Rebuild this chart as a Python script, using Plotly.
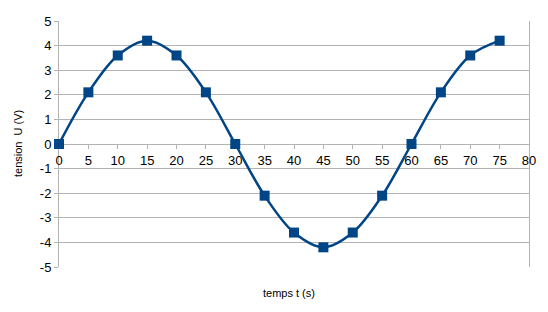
import plotly.graph_objects as go

t = [0, 5, 10, 15, 20, 25, 30, 35, 40, 45, 50, 55, 60, 65, 70, 75]
u = [0, 2.1, 3.6, 4.2, 3.6, 2.1, 0, -2.1, -3.6, -4.2, -3.6, -2.1, 0, 2.1, 3.6, 4.2]

x_ticks = list(range(0, 85, 5))
y_ticks = [-5, -4, -3, -2, -1, 0, 1, 2, 3, 4, 5]
y_labels = ["-5", "-4", "-3", "-2", "-1", "0", "1", "2", "3", "4", "5"]

x_title = "temps t (s)"
y_title = "tension  U (V)"

grid = "#b3b3b3"
blue = "#004586"
font = "Liberation Sans, Arial, sans-serif"

fig = go.Figure()
fig.add_trace(go.Scatter(
    x=t, y=u, mode="lines+markers", cliponaxis=False,
    line=dict(color=blue, width=2.5, shape="spline", smoothing=1),
    marker=dict(symbol="square", size=10, color=blue),
    showlegend=False,
))

fig.update_layout(
    width=548, height=312,
    margin=dict(l=59, r=13, t=21, b=45),
    paper_bgcolor="white", plot_bgcolor="white",
    font=dict(family=font, size=13, color="#000000"),
    xaxis=dict(range=[0, 80], showgrid=False, showline=False, zeroline=False,
               showticklabels=False, ticks=""),
    xaxis2=dict(range=[0, 80], overlaying="x", anchor="free", position=0.5,
                side="bottom", tickvals=x_ticks, showgrid=False, zeroline=False,
                showline=True, linecolor=grid, linewidth=1, layer="below traces",
                ticks="outside", ticklen=4, tickcolor=grid,
                tickfont=dict(family=font, size=13)),
    yaxis=dict(range=[-5, 5], tickvals=y_ticks, ticktext=y_labels,
               showgrid=True, gridcolor=grid, gridwidth=1, layer="below traces",
               zeroline=False, showline=True, linecolor=grid, linewidth=1, mirror=True,
               ticks="outside", ticklen=4, tickcolor=grid,
               tickfont=dict(family=font, size=13)),
    annotations=[
        dict(text=x_title, xref="paper", yref="paper", x=0.49, y=0,
             yshift=-26, showarrow=False, yanchor="middle",
             font=dict(family=font, size=11)),
        dict(text=y_title, xref="paper", yref="paper", x=0, y=0.5,
             xshift=-41, showarrow=False, textangle=-90, xanchor="center",
             font=dict(family=font, size=11)),
    ],
)
fig.add_trace(go.Scatter(x=[None], y=[None], xaxis="x2", showlegend=False))

fig.write_html("out.html")
